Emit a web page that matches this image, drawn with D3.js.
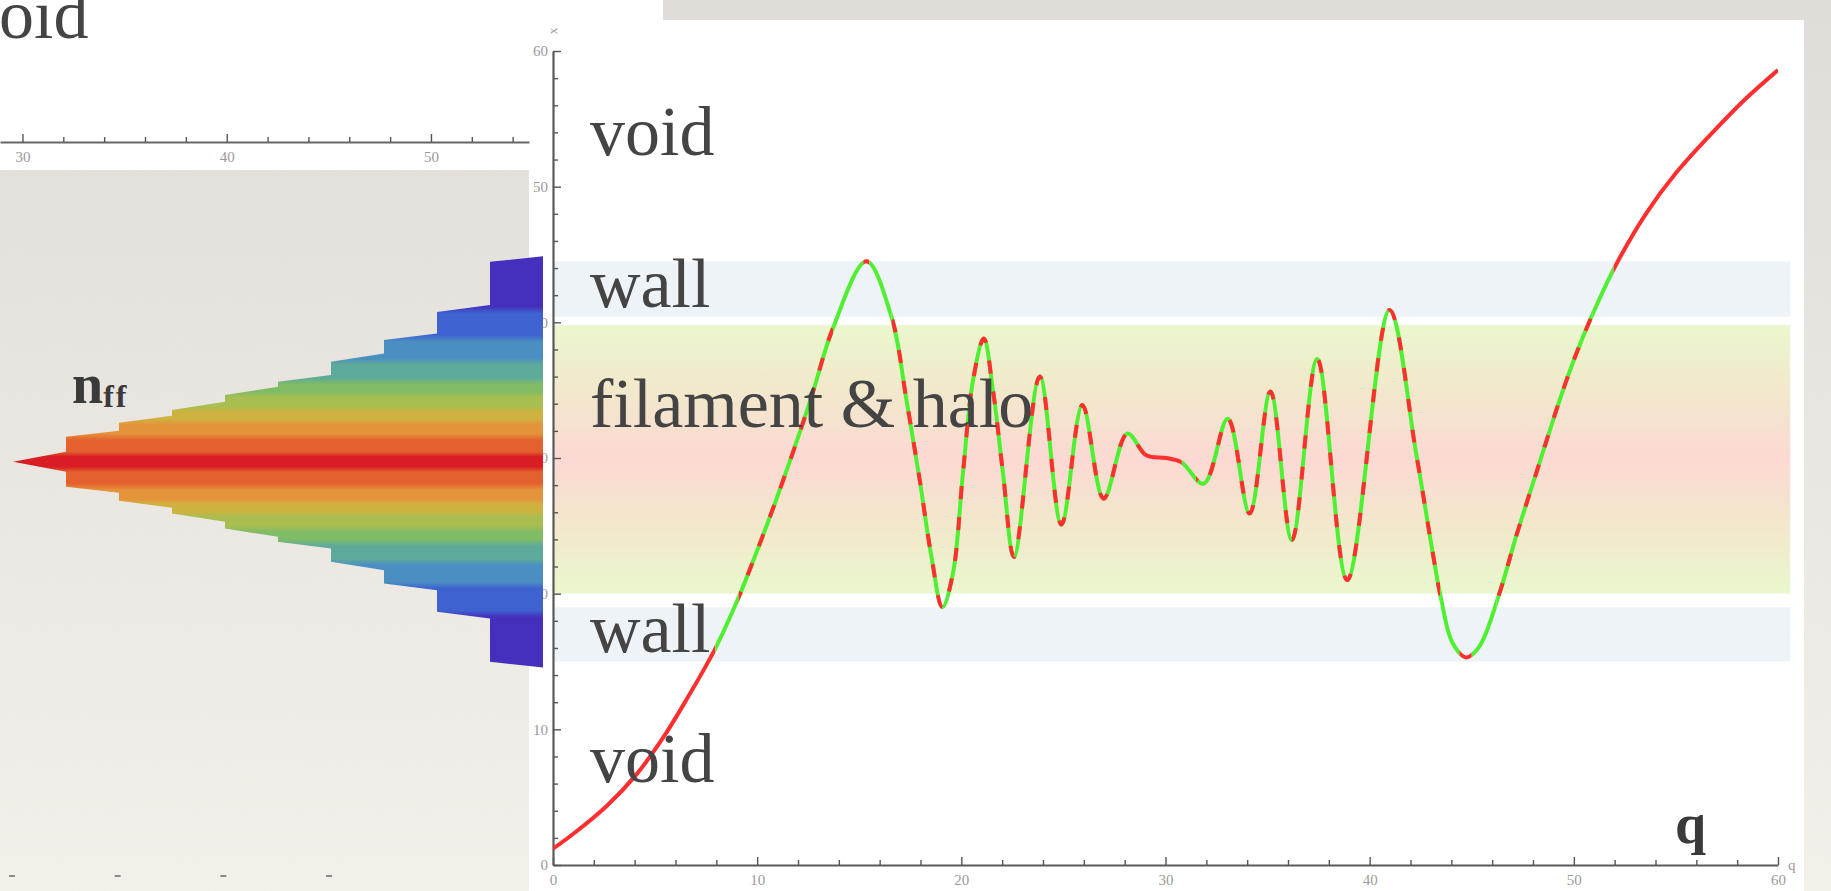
<!DOCTYPE html>
<html><head><meta charset="utf-8">
<script src="https://cdn.jsdelivr.net/npm/d3@7"></script>
<style>html,body{margin:0;padding:0;overflow:hidden;background:#ebe8e3}</style>
</head><body>
<svg id="c" width="1831" height="891"></svg>
<script>
// ---------------- DATA ----------------
// main curve x(q)
const qValues = [0, 1.0, 2.63, 4.10, 5.40, 6.54, 7.93, 9.0, 9.80, 10.95, 12.09, 12.74, 13.72, 15.35, 16.58, 17.31, 17.96, 18.54, 19.07, 19.59, 20.08, 20.57, 21.10, 21.55, 22.04, 22.58, 23.84, 24.90, 25.93, 26.97, 28.13, 29.06, 30.04, 30.77, 31.87, 33.05, 34.12, 35.14, 36.19, 37.43, 38.90, 40.97, 42.28, 43.09, 43.50, 44.05, 44.72, 45.37, 46.35, 47.17, 48.31, 49.29, 50.02, 50.92, 51.98, 53.53, 55.0, 56.8, 58.43, 60.0];
const xValues = [1.2, 2.3, 4.35, 6.7, 9.4, 12.2, 15.9, 19.4, 22.4, 27.0, 31.9, 34.9, 39.6, 44.5, 40.4, 34.3, 28.4, 22.7, 19.0, 21.5, 28.9, 35.7, 38.8, 35.0, 28.9, 22.7, 36.0, 25.1, 33.9, 27.0, 31.8, 30.2, 30.0, 29.7, 28.1, 32.9, 25.9, 34.9, 23.95, 37.3, 21.0, 40.9, 30.3, 23.0, 19.6, 16.4, 15.3, 16.1, 20.0, 24.2, 29.6, 34.2, 37.3, 40.6, 44.0, 48.0, 51.0, 54.0, 56.5, 58.6];
// colouring of the curve along q
const styleBreaks = [0, 7.95, 9.1, 13.72, 15.2, 15.5, 16.58, 28.95, 30.8, 31.5, 43.45, 44.4, 45.0, 46.2, 50.9, 51.95, 60];
const styleKinds = ["void", "wall", "mixed", "wall", "void", "wall", "mixed", "void", "wall", "mixed", "wall", "void", "wall", "mixed", "wall", "void"];
// background bands (x ranges)
const bandNames = ["wall", "filament", "wall"];
const bandLow = [40.4, 20.0, 15.0];
const bandHigh = [44.5, 39.8, 19.0];
const bandQEnd = 60.6;
// region labels
const regionLabels = ["void", "wall", "filament & halo", "wall", "void"];
// axis ticks
const xTickLabels = [0, 10, 20, 30, 40, 50, 60];
const yTickLabels = [0, 10, 20, 30, 40, 50, 60];
const minorStep = 2;
// n_ff stepped histogram (half heights in x units around centre)
const nffCentre = 29.72;
const nffSteps = [0, 1, 2, 3, 4, 5, 6, 7, 8, 9];
const nffHalfStart = [0, 1.84, 2.87, 3.81, 4.92, 5.90, 7.37, 8.97, 11.05, 14.74];
const nffHalfEnd = [0.74, 2.28, 3.39, 4.42, 5.53, 6.39, 7.99, 9.46, 11.55, 15.16];
const nffColorEdges = [0.5, 1.84, 2.95, 3.85, 4.95, 5.95, 7.4, 9.1, 11.2, 15.3];
const nffColors = ["#d81e24", "#e4602e", "#e5933a", "#cfb13f", "#a9be50", "#80bb66", "#5eaa9a", "#4a8ec2", "#3e62cf", "#4530bd"];
// top-left fragment axis
const topTickLabels = [30, 40, 50];
const bottomMarks = [0, 1, 2, 3];

// ---------------- LAYOUT ----------------
const W = 1831, H = 891;
const svg = d3.select("#c");
const defs = svg.append("defs");
const x = d3.scaleLinear().domain([0, 60]).range([553, 1778]);
const y = d3.scaleLinear().domain([0, 60]).range([865, 51]);
const RED = "#ff2f2f", GREEN = "#4fef32";
const serif = "'Liberation Serif','Times New Roman',serif";

// background paper
const bg = defs.append("linearGradient").attr("id", "bg").attr("x1", 0).attr("y1", 0).attr("x2", 0).attr("y2", 1);
bg.append("stop").attr("offset", "0%").attr("stop-color", "#e1ded9");
bg.append("stop").attr("offset", "100%").attr("stop-color", "#f5f2ec");
const noise = defs.append("filter").attr("id", "noise").attr("x", 0).attr("y", 0).attr("width", "100%").attr("height", "100%");
noise.append("feTurbulence").attr("type", "fractalNoise").attr("baseFrequency", "0.9").attr("numOctaves", 2).attr("seed", 3);
noise.append("feColorMatrix").attr("type", "matrix").attr("values", "0 0 0 0 0.5  0 0 0 0 0.48  0 0 0 0 0.45  0 0 0 0.06 0");
svg.append("rect").attr("width", W).attr("height", H).attr("fill", "url(#bg)");
svg.append("rect").attr("width", W).attr("height", H).attr("filter", "url(#noise)");

// white panels
svg.append("rect").attr("x", 0).attr("y", 0).attr("width", 529).attr("height", 170).attr("fill", "#fff");
svg.append("rect").attr("x", 0).attr("y", 0).attr("width", 663).attr("height", 22).attr("fill", "#fff");
svg.append("rect").attr("x", 529).attr("y", 20).attr("width", 1804 - 529).attr("height", H - 20).attr("fill", "#fff");

// ---- top-left fragment (cropped word)
svg.append("text").attr("x", -1).attr("y", 38).attr("font-family", serif).attr("font-size", 70)
  .attr("fill", "#444").text("oid");
const tx = d3.scaleLinear().domain([28.9, 54.8]).range([0, 529]);
const topAxis = svg.append("g").attr("transform", "translate(0,142)")
  .call(d3.axisBottom(tx).tickValues(d3.range(30, 55, minorStep)).tickSizeInner(-6).tickSizeOuter(0).tickPadding(9)
    .tickFormat(d => topTickLabels.includes(d) ? d : ""));
topAxis.select(".domain").attr("stroke", "#666").attr("stroke-width", 2.2);
topAxis.selectAll(".tick line").attr("stroke", "#555").attr("stroke-width", 1.4)
  .attr("y2", d => topTickLabels.includes(d) ? -8 : -5);
topAxis.selectAll("text").attr("font-family", serif).attr("font-size", 15).attr("fill", "#999");

// bottom-left stray marks
const bm = d3.scaleLinear().domain([0, 3]).range([12, 329]);
svg.append("g").selectAll("rect").data(bottomMarks).join("rect")
  .attr("x", d => bm(d) - 3).attr("y", 875).attr("width", 6).attr("height", 2).attr("fill", "#8a8a8a");

// ---- bands
const fil = defs.append("linearGradient").attr("id", "fil").attr("x1", 0).attr("y1", 0).attr("x2", 0).attr("y2", 1);
[["0%", "#eaf7cf"], ["18%", "#f0eccb"], ["34%", "#f5e3ce"], ["50%", "#fcd9d3"], ["66%", "#f5e3ce"], ["82%", "#f0eccb"], ["100%", "#eaf7cf"]]
  .forEach(s => fil.append("stop").attr("offset", s[0]).attr("stop-color", s[1]));
svg.append("g").selectAll("rect").data(bandNames).join("rect")
  .attr("x", x(0)).attr("width", x(bandQEnd) - x(0))
  .attr("y", (d, i) => y(bandHigh[i])).attr("height", (d, i) => y(bandLow[i]) - y(bandHigh[i]))
  .attr("fill", d => d === "wall" ? "#eef3f7" : "url(#fil)");

// ---- axes
const xAxis = svg.append("g").attr("transform", `translate(0,${y(0)})`)
  .call(d3.axisBottom(x).tickValues(d3.range(0, 61, minorStep)).tickSizeInner(-7).tickSizeOuter(0).tickPadding(9)
    .tickFormat(d => xTickLabels.includes(d) ? d : ""));
const yAxis = svg.append("g").attr("transform", `translate(${x(0)},0)`)
  .call(d3.axisLeft(y).tickValues(d3.range(0, 61, minorStep)).tickSizeInner(-7).tickSizeOuter(0).tickPadding(5)
    .tickFormat(d => yTickLabels.includes(d) ? d : ""));
[xAxis, yAxis].forEach(g => {
  g.select(".domain").attr("stroke", "#5a5a5a").attr("stroke-width", 2.2);
  g.selectAll(".tick line").attr("stroke", "#555").attr("stroke-width", 1.4);
  g.selectAll("text").attr("font-family", serif).attr("font-size", 15).attr("fill", "#9a9a9a");
});
xAxis.selectAll(".tick line").attr("y2", d => xTickLabels.includes(d) ? -8 : -5);
yAxis.selectAll(".tick line").attr("x2", d => yTickLabels.includes(d) ? 8 : 5);
svg.append("text").attr("x", x(60) + 10).attr("y", y(0) + 5).attr("font-family", serif).attr("font-size", 15)
  .attr("fill", "#999").text("q");
svg.append("text").attr("transform", `translate(${x(0) + 4},${y(60) - 20}) rotate(-90)`).attr("font-family", serif)
  .attr("font-size", 13).attr("fill", "#999").attr("text-anchor", "middle").text("x");

// ---- curve
const pts = qValues.map((q, i) => ({ q, v: xValues[i] }));
const line = d3.line().x(d => x(d.q)).y(d => y(d.v)).curve(d3.curveCatmullRom.alpha(0.5));
const pathD = line(pts);
const curveG = svg.append("g");
styleKinds.forEach((kind, i) => {
  const id = "seg" + i;
  defs.append("clipPath").attr("id", id).append("rect")
    .attr("x", x(styleBreaks[i])).attr("y", 0).attr("width", x(styleBreaks[i + 1]) - x(styleBreaks[i])).attr("height", H);
  const g = curveG.append("g").attr("clip-path", `url(#${id})`);
  const base = kind === "void" ? RED : GREEN;
  g.append("path").attr("d", pathD).attr("fill", "none").attr("stroke", base).attr("stroke-width", 4)
    .attr("stroke-linejoin", "round");
  if (kind === "mixed") {
    g.append("path").attr("d", pathD).attr("fill", "none").attr("stroke", RED).attr("stroke-width", 4)
      .attr("stroke-dasharray", "13 18");
  }
});

// ---- region labels
const labelPos = [52.3, 41.1, 32.3, 15.7, 6.14];
svg.append("g").selectAll("text").data(regionLabels).join("text")
  .attr("x", 590).attr("y", (d, i) => y(labelPos[i]))
  .attr("font-family", serif).attr("font-size", 70).attr("fill", "#444").text(d => d);
svg.append("text").attr("x", 1675).attr("y", 843).attr("font-family", serif).attr("font-weight", "bold")
  .attr("font-size", 56).attr("fill", "#3a3a3a").text("q");

// ---- n_ff stepped histogram
const nx = d3.scaleLinear().domain([0, 10]).range([13, 543]);
const topPts = [], botPts = [];
nffSteps.forEach((k, i) => {
  topPts.push([nx(k), y(nffCentre + nffHalfStart[i])], [nx(k + 1), y(nffCentre + nffHalfEnd[i])]);
  botPts.push([nx(k), y(nffCentre - nffHalfStart[i])], [nx(k + 1), y(nffCentre - nffHalfEnd[i])]);
});
const outline = topPts.concat(botPts.reverse());
const maxH = nffColorEdges[nffColorEdges.length - 1];
const ng = defs.append("linearGradient").attr("id", "nff").attr("gradientUnits", "userSpaceOnUse")
  .attr("x1", 0).attr("x2", 0).attr("y1", y(nffCentre + maxH)).attr("y2", y(nffCentre - maxH));
const stops = [];
nffColors.forEach((c, i) => {
  const lo = i === 0 ? 0 : nffColorEdges[i - 1], hi = nffColorEdges[i];
  const t = Math.min(0.25, (hi - lo) / 4);
  [lo + (i === 0 ? 0 : t), hi - t].forEach(d => {
    stops.push({ o: 0.5 - d / (2 * maxH), c });
    stops.push({ o: 0.5 + d / (2 * maxH), c });
  });
});
stops.sort((a, b) => a.o - b.o).forEach(s => ng.append("stop").attr("offset", s.o).attr("stop-color", s.c));
svg.append("path").attr("d", d3.line()(outline) + "Z").attr("fill", "url(#nff)");

const nt = svg.append("text").attr("x", 72).attr("y", 403).attr("font-family", serif).attr("font-weight", "bold")
  .attr("fill", "#3a3a3a");
nt.append("tspan").attr("font-size", 56).text("n");
nt.append("tspan").attr("font-size", 32).attr("dy", 4).attr("letter-spacing", 2).text("ff");
</script>
</body></html>
